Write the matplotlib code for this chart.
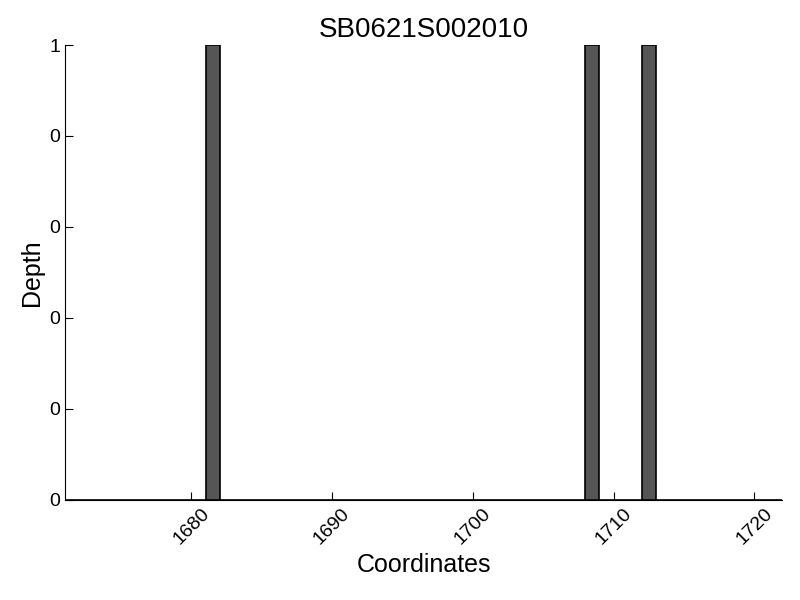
import matplotlib
matplotlib.use('Agg')
import matplotlib.pyplot as plt
from matplotlib.ticker import FuncFormatter
import numpy as np

plt.rcParams['font.family'] = ['Liberation Sans', 'DejaVu Sans']

# coverage data
coords = np.arange(1671, 1722)
depth = np.zeros(len(coords))
covered = [1681, 1708, 1712]
for c in covered:
    depth[coords == c] = 1
title = 'SB0621S002010'

fig, ax = plt.subplots(figsize=(8, 6), dpi=100)
fig.subplots_adjust(left=0.081, right=0.978, top=0.925, bottom=0.167)

ax.bar(coords, depth, width=1, align='edge', color='#555555',
       edgecolor='black', linewidth=1.2)

ax.set_xlim(1671, 1722)
ax.set_ylim(0, 1)
ax.set_xticks([1680, 1690, 1700, 1710, 1720])
ax.set_yticks([0, 0.2, 0.4, 0.6, 0.8, 1.0])
ax.yaxis.set_major_formatter(FuncFormatter(lambda v, p: '%d' % int(v)))

for s in ['top', 'right']:
    ax.spines[s].set_visible(False)
ax.tick_params(direction='in', top=False, right=False, labelsize=14, length=6)
plt.setp(ax.get_xticklabels(), rotation=45)

ax.set_title(title, fontsize=20)
ax.set_xlabel('Coordinates', fontsize=18)
ax.set_ylabel('Depth', fontsize=18)

fig.savefig('out.png', dpi=100)
